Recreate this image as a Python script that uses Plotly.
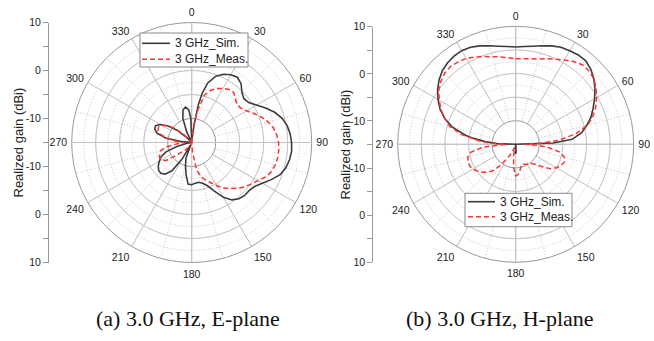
import plotly.graph_objects as go

# ---------------- data ----------------
angle_ticks = [0, 30, 60, 90, 120, 150, 180, 210, 240, 270, 300, 330]
angle_labels = ["0", "30", "60", "90", "120", "150", "180", "210", "240", "270", "300", "330"]
axis_cross_ticks = [0, 90, 180, 270]
gain_tick_labels = ["10", "", "0", "", "-10", "", "-10", "", "0", "", "10"]
gain_tick_pos = [25, 20, 15, 10, 5, 0, -5, -10, -15, -20, -25]

e_sim_theta = [0, 5, 8, 10, 12, 15, 20, 25, 30, 35, 40, 45, 50, 55, 60, 65, 70, 75, 80, 85,
               90, 95, 100, 105, 110, 115, 120, 125, 130, 135, 140, 145, 150, 155, 160, 165,
               170, 175, 180, 185, 190, 195, 200, 205, 210, 215, 220, 225, 230, 235, 240, 245,
               250, 255, 260, 265, 270, 275, 280, 285, 290, 295, 300, 305, 310, 315, 320, 325,
               330, 335, 340, 345, 350, 355, 358, 360]
e_sim_gain = [-15, -14, -11, -7, -4.5, -2.2, -0.3, 0.7, 1.3, 1.6, 1.0, -0.2, -0.8, -0.5, 0.6, 2.0,
              3.4, 4.5, 5.2, 5.6, 5.8, 5.9, 5.7, 5.3, 4.6, 3.3, 2.0, 1.0, 0.6, 0.6, 0.3, -0.4,
              -1.8, -3.8, -5.4, -6.2, -6.6, -6.5, -6.2, -6.3, -8.2, -10, -11.5, -14.5, -11, -7.8,
              -6.4, -5.9, -6.0, -6.5, -7.2, -8.0, -9.3, -11.8, -14, -15, -15, -13, -9.5, -7.5,
              -6.8, -6.7, -7.5, -9.0, -11, -13.5, -15, -15, -15, -12.5, -9.6, -8.0, -7.5, -8.2,
              -10, -15]

e_meas_theta = [0, 5, 10, 15, 20, 25, 30, 35, 40, 45, 50, 55, 60, 65, 70, 75, 80, 85, 90, 95,
                100, 105, 110, 115, 120, 125, 130, 135, 140, 145, 150, 155, 160, 165, 170, 175,
                180, 190, 200, 210, 220, 230, 235, 240, 245, 250, 255, 260, 265, 270, 275, 280,
                285, 290, 295, 300, 305, 310, 315, 320, 330, 340, 350, 360]
e_meas_gain = [-15, -12, -8.5, -4.8, -3.4, -2.6, -2.0, -1.5, -1.4, -2.1, -2.7, -2.5, -1.8, -0.7,
               0.5, 1.5, 2.3, 2.8, 3.1, 3.2, 3.2, 3.0, 2.7, 2.0, 0.9, 0.1, -0.6, -1.5, -2.5, -3.4,
               -4.6, -5.8, -6.7, -7.6, -9.2, -13, -15, -15, -14.5, -14, -13, -11, -8.5, -7.7,
               -7.6, -7.9, -8.3, -9.5, -12, -13.5, -11.5, -9.5, -8.2, -7.5, -7.4, -7.9, -8.8,
               -10.5, -12.5, -14, -15, -15, -15, -15]

h_sim_theta = [0, 5, 10, 15, 20, 25, 30, 35, 40, 45, 50, 55, 60, 65, 70, 75, 80, 85, 88, 90,
               170, 175, 178, 180, 182, 185, 190, 270, 272, 275, 278, 280, 285, 290, 295, 300,
               305, 310, 315, 320, 325, 330, 335, 340, 345, 350, 355, 360]
h_sim_gain = [5.6, 5.8, 6.1, 6.6, 7.2, 7.7, 7.9, 8.1, 8.1, 7.5, 6.6, 5.5, 4.3, 3.1, 2.0, 0.6,
              -0.8, -3.0, -7.0, -15, -15, -14.5, -13.3, -13.0, -13.3, -14.5, -15, -15, -11,
              -8.5, -6.0, -4.3, -1.2, 1.0, 2.7, 4.0, 5.2, 6.2, 7.0, 7.5, 7.8, 7.9, 7.7, 7.2,
              6.6, 6.1, 5.8, 5.6]

h_meas_theta = [0, 10, 15, 20, 25, 30, 35, 40, 45, 50, 55, 60, 65, 70, 75, 80, 85, 88, 90, 93,
                95, 100, 105, 110, 115, 120, 125, 130, 135, 140, 145, 150, 155, 160, 165, 170,
                175, 180, 185, 190, 195, 200, 205, 210, 215, 220, 225, 230, 235, 240, 245, 250,
                255, 260, 265, 268, 270, 273, 275, 280, 285, 290, 295, 300, 305, 310, 315, 320,
                325, 330, 335, 340, 345, 350, 355, 360]
h_meas_gain = [3.1, 3.4, 3.7, 4.3, 4.9, 5.6, 6.4, 7.0, 7.0, 6.6, 5.8, 4.8, 3.7, 2.4, 0.8, -2.0,
               -6.0, -10, -13, -10, -8.3, -5.5, -4.3, -4.0, -4.4, -5.1, -6.0, -7.6, -8.9, -9.7,
               -10.0, -10.2, -10.3, -10.6, -10.4, -9.5, -8.6, -8.3, -10, -12.5, -14, -14.3, -13,
               -11.8, -9.8, -7.8, -6.6, -5.8, -5.1, -4.5, -4.2, -4.3, -4.5, -5.4, -8, -12, -13,
               -9.5, -7.5, -3.5, -0.6, 1.0, 2.5, 3.7, 4.9, 5.7, 6.3, 6.5, 6.3, 6.0, 5.4, 4.8,
               4.2, 3.8, 3.4, 3.1]

sim_name = "3 GHz_Sim."
meas_name = "3 GHz_Meas."
captions = ["(a) 3.0 GHz, E-plane", "(b) 3.0 GHz, H-plane"]
axis_title = "Realized gain (dBi)"
r_range = [-15, 10]       # full radial range (centre = -15 dBi)
grid_range = [-10, 10]    # range covered by the grid rings / spokes
grid_hole = (grid_range[0] - r_range[0]) / (r_range[1] - r_range[0])

# ---------------- layout helpers ----------------
W, H = 654, 341
def px(x):
    return x / W
def py(y):
    return 1 - y / H

FONT = "Arial, 'Liberation Sans', sans-serif"
SERIF = "'Liberation Serif', 'Times New Roman', serif"
SIM_COLOR = "#3c3c3c"
MEAS_COLOR = "#ff3333"
MEAS_DASH = "5px,3px"
GRID = "#c4c4c4"
DOTGRID = "#c6c6c6"
DOT_PATTERN = "1px,2px"

fig = go.Figure()

# empty traces so the stand-alone gain axes and the grid layers get drawn
fig.add_trace(go.Scatter(x=[], y=[], xaxis="x", yaxis="y", showlegend=False, hoverinfo="skip"))
fig.add_trace(go.Scatter(x=[], y=[], xaxis="x2", yaxis="y2", showlegend=False, hoverinfo="skip"))
for sp in ["polar", "polar2", "polar4", "polar5"]:
    fig.add_trace(go.Scatterpolar(r=[], theta=[], subplot=sp, showlegend=False,
                                  hoverinfo="skip"))

# E-plane
fig.add_trace(go.Scatterpolar(theta=e_sim_theta, r=e_sim_gain, mode="lines", name=sim_name,
                              line=dict(color=SIM_COLOR, width=1.6), subplot="polar3",
                              showlegend=False))
fig.add_trace(go.Scatterpolar(theta=e_meas_theta, r=e_meas_gain, mode="lines", name=meas_name,
                              line=dict(color=MEAS_COLOR, width=1.5, dash=MEAS_DASH),
                              subplot="polar3", showlegend=False))
# H-plane
fig.add_trace(go.Scatterpolar(theta=h_sim_theta, r=h_sim_gain, mode="lines", name=sim_name,
                              line=dict(color=SIM_COLOR, width=1.6), subplot="polar6",
                              showlegend=False))
fig.add_trace(go.Scatterpolar(theta=h_meas_theta, r=h_meas_gain, mode="lines", name=meas_name,
                              line=dict(color=MEAS_COLOR, width=1.5, dash=MEAS_DASH),
                              subplot="polar6", showlegend=False))


def dotted_polar(dom_x, dom_y):
    return dict(
        domain=dict(x=dom_x, y=dom_y), bgcolor="white", hole=grid_hole,
        radialaxis=dict(range=grid_range, tick0=0, dtick=2.5, showticklabels=False, ticks="",
                        showline=False, gridcolor=DOTGRID, griddash=DOT_PATTERN, gridwidth=1),
        angularaxis=dict(rotation=90, direction="clockwise", dtick=15, showticklabels=False,
                         ticks="", showline=False, gridcolor=DOTGRID, griddash=DOT_PATTERN,
                         gridwidth=1),
    )


def solid_polar(dom_x, dom_y):
    return dict(
        domain=dict(x=dom_x, y=dom_y), bgcolor="rgba(0,0,0,0)", hole=grid_hole,
        radialaxis=dict(range=grid_range, tick0=0, dtick=5, showticklabels=False, ticks="",
                        showline=False, gridcolor=GRID, gridwidth=1),
        angularaxis=dict(rotation=90, direction="clockwise", tickmode="array",
                         tickvals=angle_ticks, ticktext=angle_labels, ticks="outside",
                         ticklen=2, tickcolor="rgba(0,0,0,0)",
                         tickfont=dict(family=FONT, size=10.5, color="#222"),
                         showline=True, linecolor="#999", linewidth=1,
                         gridcolor=GRID, gridwidth=1),
    )


def data_polar(dom_x, dom_y):
    return dict(
        domain=dict(x=dom_x, y=dom_y), bgcolor="rgba(0,0,0,0)",
        radialaxis=dict(range=r_range, showgrid=False, showticklabels=False, ticks="",
                        showline=False),
        angularaxis=dict(rotation=90, direction="clockwise", tickmode="array",
                         tickvals=axis_cross_ticks, showticklabels=False, ticks="",
                         showline=False, gridcolor=GRID, gridwidth=1),
    )


L_dx = [px(71.7), px(311.7)]
L_dy = [py(262.5), py(22.5)]
R_dx = [px(397.7), px(633.7)]
R_dy = [py(262.3), py(26.3)]


def gain_axis(dom_y, anchor):
    return dict(domain=dom_y, range=[-25, 25], anchor=anchor, side="left",
                tickmode="array", tickvals=gain_tick_pos, ticktext=gain_tick_labels,
                ticks="outside", ticklen=5, tickcolor="#999", showline=True,
                linecolor="#999", linewidth=1, showgrid=False, zeroline=False,
                tickfont=dict(family=FONT, size=10.5, color="#222"), automargin=False,
                fixedrange=True)


fig.update_layout(
    template="none",
    width=W, height=H,
    margin=dict(l=0, r=0, t=0, b=0),
    paper_bgcolor="white", plot_bgcolor="rgba(0,0,0,0)",
    font=dict(family=FONT, color="#222"),
    polar=dotted_polar(L_dx, L_dy),
    polar2=solid_polar(L_dx, L_dy),
    polar3=data_polar(L_dx, L_dy),
    polar4=dotted_polar(R_dx, R_dy),
    polar5=solid_polar(R_dx, R_dy),
    polar6=data_polar(R_dx, R_dy),
    xaxis=dict(domain=[px(49), px(60)], range=[0, 1], visible=False, anchor="y",
               fixedrange=True),
    yaxis=gain_axis([py(262.5), py(22.5)], "x"),
    xaxis2=dict(domain=[px(373.3), px(380)], range=[0, 1], visible=False, anchor="y2",
                fixedrange=True),
    yaxis2=gain_axis([py(262.3), py(26.7)], "x2"),
    showlegend=False,
)

# compact legend boxes (box, sample lines, labels)
legend_boxes = [
    dict(box=(140, 33, 248, 67), rows=(43.3, 59.3), line_x=(142, 170), text_x=173),
    dict(box=(465, 193.3, 572, 226.7), rows=(201.7, 216.7), line_x=(468, 495), text_x=497.5),
]
for lb in legend_boxes:
    x0, y0, x1, y1 = lb["box"]
    fig.add_shape(type="rect", xref="paper", yref="paper", x0=px(x0), x1=px(x1),
                  y0=py(y1), y1=py(y0), fillcolor="white",
                  line=dict(color="#888", width=1), layer="above")
    for row_y, nm, col, dash, wd in zip(lb["rows"], [sim_name, meas_name],
                                        [SIM_COLOR, MEAS_COLOR], ["solid", MEAS_DASH],
                                        [1.6, 1.5]):
        fig.add_shape(type="line", xref="paper", yref="paper",
                      x0=px(lb["line_x"][0]), x1=px(lb["line_x"][1]),
                      y0=py(row_y), y1=py(row_y),
                      line=dict(color=col, width=wd, dash=dash), layer="above")
        fig.add_annotation(text=nm, x=px(lb["text_x"]), y=py(row_y), xref="paper",
                           yref="paper", xanchor="left", yanchor="middle", showarrow=False,
                           font=dict(family=FONT, size=12, color="#222"))

for tx, ty in [(18, 142.5), (345, 144.5)]:
    fig.add_annotation(text=axis_title, x=px(tx), y=py(ty), xref="paper", yref="paper",
                       xanchor="center", yanchor="middle", textangle=-90, showarrow=False,
                       font=dict(family=FONT, size=13, color="#222"))
for cap, cx in zip(captions, [188, 500]):
    fig.add_annotation(text=cap, x=px(cx), y=py(318), xref="paper", yref="paper",
                       xanchor="center", yanchor="middle", showarrow=False,
                       font=dict(family=SERIF, size=22, color="#111"))

fig.write_html("out.html")
